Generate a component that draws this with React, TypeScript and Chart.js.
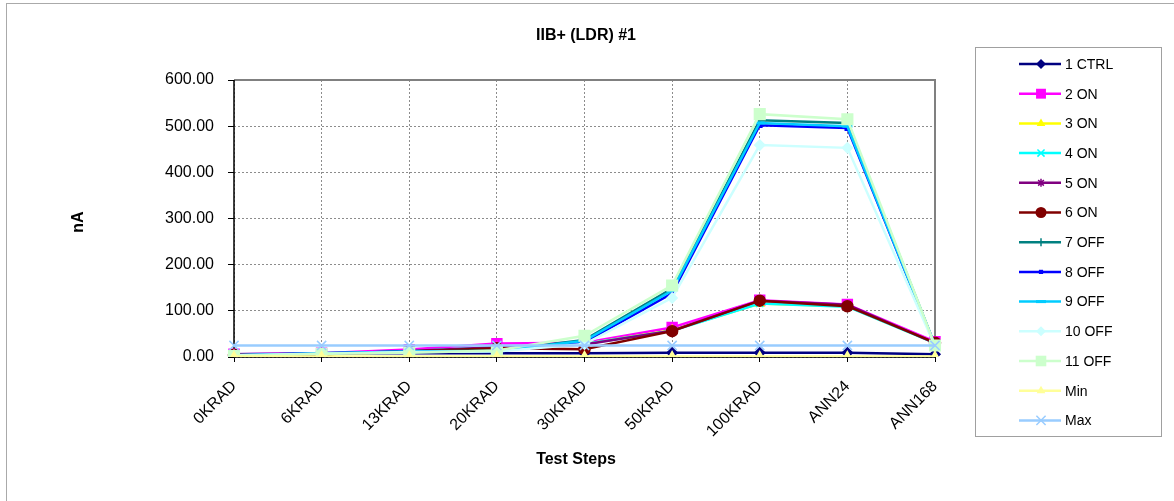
import React, { useEffect, useRef } from "react";
import { Chart, registerables } from "chart.js";

Chart.register(...registerables);

const categories = ["0KRAD", "6KRAD", "13KRAD", "20KRAD", "30KRAD", "50KRAD", "100KRAD", "ANN24", "ANN168"];
const yTicks = [0, 100, 200, 300, 400, 500, 600];

const ctrl1 = [6, 8, 8, 8, 8, 9, 9, 9, 6];
const on2 = [6, 8, 16, 29, 31, 64, 123, 114, 33];
const on3 = [3, 5, 12, 20, 28, 58, 116, 110, 30];
const on4 = [4, 6, 13, 21, 28, 57, 116, 109, 30];
const on5 = [5, 6, 13, 21, 27, 57, 122, 113, 30];
const on6 = [5, 6, 12, 19, 17, 56, 122, 110, 31];
const off7 = [4, 8, 12, 14, 37, 148, 513, 507, 25];
const off8 = [4, 8, 12, 13, 32, 138, 502, 496, 25];
const off9 = [4, 8, 12, 13, 35, 144, 507, 500, 25];
const off10 = [4, 7, 11, 12, 28, 128, 459, 453, 24];
const off11 = [2, 7, 9, 14, 46, 155, 526, 515, 25];
const minS = [1, 1, 1, 1, 1, 1, 1, 1, 1];
const maxS = [25, 25, 25, 25, 25, 25, 25, 25, 25];

const seriesNames = ["1 CTRL", "2 ON", "3 ON", "4 ON", "5 ON", "6 ON", "7 OFF", "8 OFF", "9 OFF", "10 OFF", "11 OFF", "Min", "Max"];
const seriesValues = [ctrl1, on2, on3, on4, on5, on6, off7, off8, off9, off10, off11, minS, maxS];
const seriesColors = ["#000080", "#FF00FF", "#FFFF00", "#00FFFF", "#800080", "#800000", "#008080", "#0000FF", "#00CCFF", "#CCFFFF", "#CCFFCC", "#FFFF99", "#99CCFF"];
const seriesMarkers = ["rectRot", "rect", "triangle", "crossRot", "star", "circle", "cross", "rect", "line", "rectRot", "rect", "triangle", "crossRot"];
const markerRadius = [5, 7, 5, 5, 4, 5.5, 4, 3, 5, 5, 7.5, 5, 6.5];

const FONT = "'Liberation Sans', Arial, sans-serif";

function drawMarker(ctx: CanvasRenderingContext2D, style: string, r: number, x: number, y: number) {
  ctx.beginPath();
  switch (style) {
    case "circle":
      ctx.arc(x, y, r, 0, Math.PI * 2);
      ctx.fill();
      break;
    case "rect": {
      const s = Math.SQRT1_2 * r;
      ctx.rect(x - s, y - s, 2 * s, 2 * s);
      ctx.fill();
      break;
    }
    case "rectRot":
      ctx.moveTo(x, y - r);
      ctx.lineTo(x + r, y);
      ctx.lineTo(x, y + r);
      ctx.lineTo(x - r, y);
      ctx.closePath();
      ctx.fill();
      break;
    case "triangle":
      ctx.moveTo(x, y - r);
      ctx.lineTo(x + r * 0.866, y + r * 0.5);
      ctx.lineTo(x - r * 0.866, y + r * 0.5);
      ctx.closePath();
      ctx.fill();
      break;
    case "crossRot": {
      const d = r * Math.SQRT1_2;
      ctx.lineWidth = 1.5;
      ctx.moveTo(x - d, y - d);
      ctx.lineTo(x + d, y + d);
      ctx.moveTo(x - d, y + d);
      ctx.lineTo(x + d, y - d);
      ctx.stroke();
      break;
    }
    case "cross":
      ctx.lineWidth = 1.5;
      ctx.moveTo(x - r, y);
      ctx.lineTo(x + r, y);
      ctx.moveTo(x, y - r);
      ctx.lineTo(x, y + r);
      ctx.stroke();
      break;
    case "star": {
      const d = r * Math.SQRT1_2;
      ctx.lineWidth = 1.5;
      ctx.moveTo(x - d, y - d);
      ctx.lineTo(x + d, y + d);
      ctx.moveTo(x - d, y + d);
      ctx.lineTo(x + d, y - d);
      ctx.moveTo(x, y - r);
      ctx.lineTo(x, y + r);
      ctx.stroke();
      break;
    }
    case "line":
      ctx.lineWidth = 3;
      ctx.moveTo(x - r, y);
      ctx.lineTo(x + r, y);
      ctx.stroke();
      break;
  }
}

const decorPlugin = {
  id: "decor",
  beforeDraw(chart: any) {
    const ctx = chart.ctx;
    ctx.save();
    ctx.fillStyle = "#fff";
    ctx.fillRect(0, 0, chart.width, chart.height);
    ctx.strokeStyle = "#aaaaaa";
    ctx.lineWidth = 1;
    ctx.strokeRect(6.5, 3.5, chart.width + 20, chart.height + 20);
    ctx.restore();
  },
  beforeDatasetsDraw(chart: any) {
    const { ctx, chartArea } = chart;
    ctx.save();
    ctx.strokeStyle = "#808080";
    ctx.lineWidth = 2;
    ctx.beginPath();
    ctx.moveTo(chartArea.left, chartArea.top);
    ctx.lineTo(chartArea.right, chartArea.top);
    ctx.lineTo(chartArea.right, chartArea.bottom);
    ctx.stroke();
    ctx.strokeStyle = "#000";
    ctx.lineWidth = 1.5;
    ctx.beginPath();
    ctx.moveTo(chartArea.left, chartArea.top);
    ctx.lineTo(chartArea.left, chartArea.bottom);
    ctx.lineTo(chartArea.right, chartArea.bottom);
    ctx.stroke();
    ctx.restore();
  },
  afterDraw(chart: any) {
    const ctx = chart.ctx;
    ctx.save();
    ctx.fillStyle = "#000";
    ctx.font = `bold 16px ${FONT}`;
    ctx.textAlign = "center";
    ctx.textBaseline = "middle";
    ctx.fillText("IIB+ (LDR) #1", 586, 36);
    ctx.fillText("Test Steps", 576, 460);
    ctx.save();
    ctx.translate(79, 222);
    ctx.rotate(-Math.PI / 2);
    ctx.fillText("nA", 0, 0);
    ctx.restore();

    // legend
    ctx.strokeStyle = "#a0a0a0";
    ctx.lineWidth = 1;
    ctx.strokeRect(975.5, 47.5, 186, 389);
    ctx.font = `14px ${FONT}`;
    ctx.textAlign = "left";
    ctx.textBaseline = "middle";
    chart.data.datasets.forEach((ds: any, i: number) => {
      const y = 64 + i * 29.7;
      ctx.strokeStyle = ds.borderColor;
      ctx.lineWidth = 2.5;
      ctx.beginPath();
      ctx.moveTo(1019, y);
      ctx.lineTo(1061, y);
      ctx.stroke();
      ctx.fillStyle = ds.backgroundColor;
      ctx.strokeStyle = ds.borderColor;
      ctx.lineWidth = 1;
      drawMarker(ctx, ds.pointStyle, ds.pointRadius, 1041, y);
      ctx.fillStyle = "#000";
      ctx.fillText(ds.label, 1065, y + 1);
    });
    ctx.restore();
  },
};

export default function App() {
  const ref = useRef<HTMLCanvasElement>(null);
  useEffect(() => {
    if (!ref.current) return;
    const datasets = seriesNames.map((name, i) => ({
      label: name,
      data: seriesValues[i],
      borderColor: seriesColors[i],
      backgroundColor: seriesColors[i],
      pointStyle: seriesMarkers[i],
      pointRadius: markerRadius[i],
      pointBorderWidth: seriesMarkers[i] === "line" ? 3 : 1.5,
      borderWidth: 2.5,
      tension: 0,
      order: -i,
    }));
    const chart = new Chart(ref.current, {
      type: "line",
      data: { labels: categories, datasets },
      options: {
        animation: false,
        responsive: false,
        devicePixelRatio: 1,
        layout: { padding: { left: 0, top: 80, right: 239, bottom: 0 } },
        plugins: { legend: { display: false }, tooltip: { enabled: false }, title: { display: false } },
        scales: {
          x: {
            offset: false,
            grid: { color: "#8c8c8c", tickColor: "#000", tickLength: 5, lineWidth: 1 },
            border: { display: false, dash: [2, 2] },
            ticks: {
              minRotation: 45,
              maxRotation: 45,
              autoSkip: false,
              padding: 15,
              color: "#000",
              font: { family: FONT, size: 16 },
            },
            afterFit: (s: any) => {
              s.height = 144;
            },
          },
          y: {
            min: 0,
            max: 600,
            afterBuildTicks: (s: any) => {
              s.ticks = yTicks.map((v) => ({ value: v }));
            },
            grid: { color: "#8c8c8c", tickColor: "#000", tickLength: 6, lineWidth: 1 },
            border: { display: false, dash: [2, 2] },
            ticks: {
              padding: 14,
              color: "#000",
              font: { family: FONT, size: 16 },
              callback: (v: any) => Number(v).toFixed(2),
            },
            afterFit: (s: any) => {
              s.width = 234;
            },
          },
        },
      },
      plugins: [decorPlugin],
    });
    return () => chart.destroy();
  }, []);
  return (
    <div>
      <style>{"body{margin:0}"}</style>
      <canvas ref={ref} width={1174} height={501} style={{ display: "block" }} />
    </div>
  );
}
